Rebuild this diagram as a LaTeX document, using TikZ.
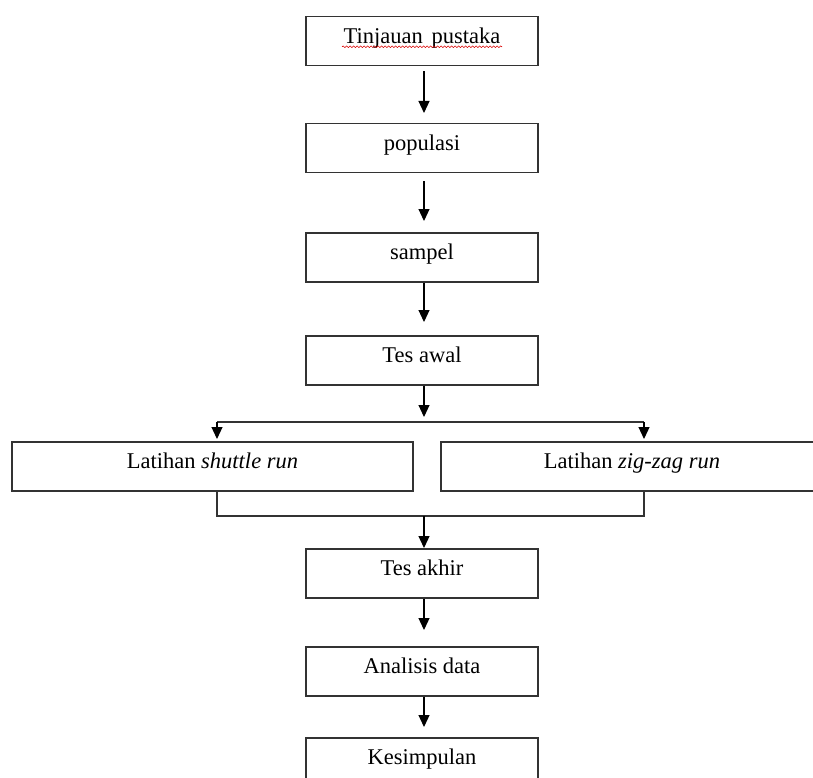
\documentclass[tikz,border=0pt]{standalone}
\usepackage{fontspec}
\setmainfont{Liberation Serif}
\usetikzlibrary{arrows.meta,calc,decorations.pathmorphing}

\begin{document}
\begin{tikzpicture}[x=1pt,y=-1pt,
  box/.style={draw=black!80,line width=1.5pt,rectangle,anchor=north,
    inner xsep=0pt,inner ysep=12pt,text height=15pt,text depth=10pt,
    font=\fontsize{22.5}{26}\selectfont},
  midbox/.style={box,minimum width=232pt},
  flow/.style={draw=black,line width=1.2pt,-{Triangle[width=11pt,length=12pt]}},
  link/.style={draw=black!80,line width=1.3pt},
  spell/.style={draw=red!85!black,line width=0.6pt,decorate,
    decoration={snake,amplitude=0.8pt,segment length=3.5pt}}
]
\useasboundingbox (0,0) rectangle (813,778);
\clip (0,0) rectangle (813,778);

% main column
\node[midbox] (tinjauan)   at (422,16)  {Tinjauan\hspace{0.4em}pustaka};
\node[midbox] (populasi)   at (422,123) {populasi};
\node[midbox] (sampel)     at (422,232) {sampel};
\node[midbox] (tesawal)    at (422,335) {Tes awal};
\node[box,minimum width=401pt] (shuttle) at (212.5,441) {Latihan \textit{shuttle run}};
\node[box,minimum width=382pt] (zigzag)  at (632,441)   {Latihan \textit{zig-zag run}};
\node[midbox] (tesakhir)   at (422,548) {Tes akhir};
\node[midbox] (analisis)   at (422,646) {Analisis data};
\node[midbox] (kesimpulan) at (422,737) {Kesimpulan};

% spell-check underline
\draw[spell] ($(tinjauan.base)+(-80,3)$) -- ($(tinjauan.base)+(80,3)$);

% branching points
\coordinate (split)  at (424,422);
\coordinate (lsplit) at (217,422);
\coordinate (rsplit) at (644,422);
\coordinate (merge)  at (424,516);
\coordinate (lmerge) at (217,516);
\coordinate (rmerge) at (644,516);

% connectors
\draw[flow,shorten <=5pt,shorten >=10pt]
  ([xshift=2pt]tinjauan.south) -- ([xshift=2pt]populasi.north);
\draw[flow,shorten <=8pt,shorten >=11pt]
  ([xshift=2pt]populasi.south) -- ([xshift=2pt]sampel.north);
\draw[flow,shorten >=13pt]
  ([xshift=2pt]sampel.south) -- ([xshift=2pt]tesawal.north);
\draw[flow,shorten >=5pt]
  ([xshift=2pt]tesawal.south) -- (split);
\draw[link] (lsplit) -- (rsplit);
\draw[flow,shorten >=2pt] (lsplit) -- (lsplit |- shuttle.north);
\draw[flow,shorten >=2pt] (rsplit) -- (rsplit |- zigzag.north);
\draw[link] (lmerge |- shuttle.south) -- (lmerge) -- (rmerge) -- (rmerge |- zigzag.south);
\draw[flow] (merge) -- (merge |- tesakhir.north);
\draw[flow,shorten >=16pt]
  ([xshift=2pt]tesakhir.south) -- ([xshift=2pt]analisis.north);
\draw[flow,shorten >=10pt]
  ([xshift=2pt]analisis.south) -- ([xshift=2pt]kesimpulan.north);
\end{tikzpicture}
\end{document}
